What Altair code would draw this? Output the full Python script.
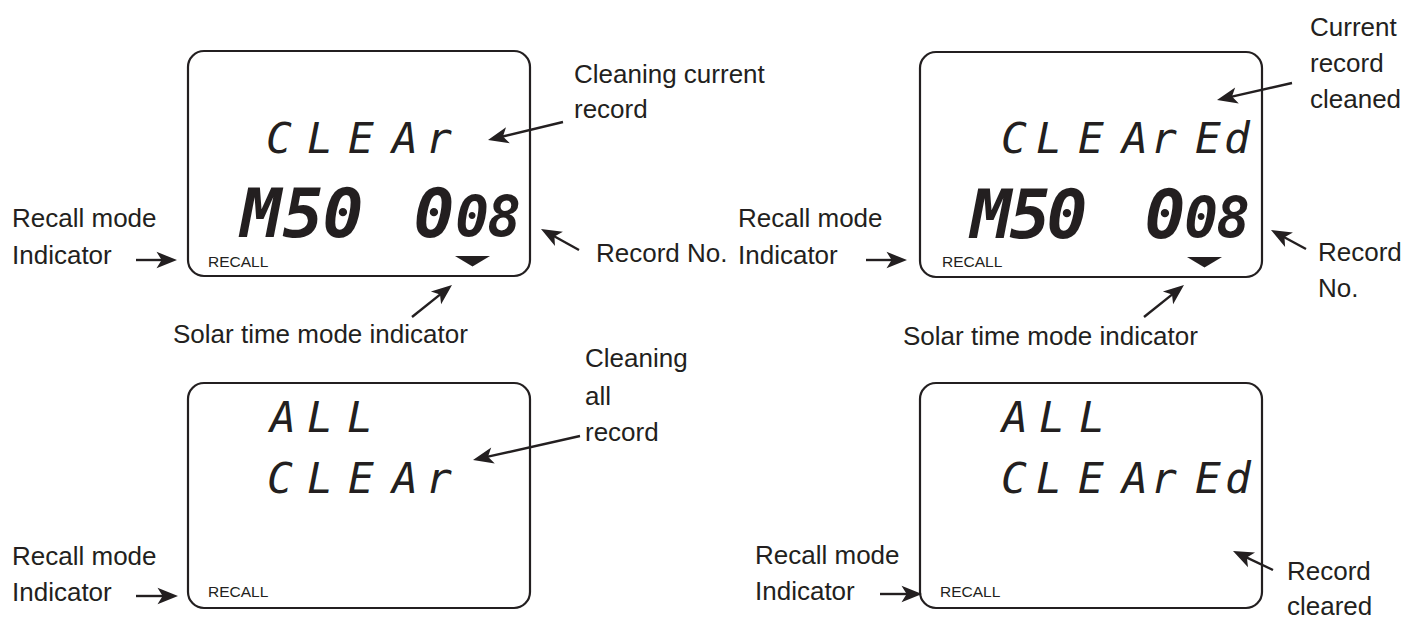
import math
import altair as alt
import pandas as pd

INK = "#231f20"
W, H = 1396, 612

# ---- display panels (rounded LCD frames) ----
box_left = [188, 920, 188, 920]
box_top = [51, 52, 383, 383]
box_right = [530, 1262, 530, 1262]
box_bottom = [276, 277, 608, 608]

# small "RECALL" indicator text in each panel
recall_text = ["RECALL", "RECALL", "RECALL", "RECALL"]
recall_x = [208, 942, 208, 940]
recall_base = [267, 267, 597, 597]

# ---- thin LCD words ----
small_words = ["CLEAr", "CLEArEd", "ALL", "CLEAr", "ALL", "CLEArEd"]
small_centers = [
    [279, 320, 361, 405, 439],
    [1014, 1049, 1091, 1135, 1164, 1208, 1237],
    [283, 320, 360],
    [280, 320, 361, 405, 439],
    [1015, 1052, 1092],
    [1014, 1049, 1091, 1135, 1164, 1208, 1238],
]
small_base = [153, 153, 432, 493, 432, 493]

# ---- large LCD digits "M50 008" ----
big_chars = ["M", "5", "0", "0", "0", "8"]
big_sizes = [68, 68, 68, 68, 56, 56]
big_centers = [
    [261, 303, 343, 434, 472, 504],
    [991, 1030, 1067, 1165, 1201, 1233],
]
big_base = [237, 238]

# solar-time indicator triangles
tri_x = [472.5, 1204.5]
tri_y = [256, 257]

# ---- annotation labels ----
label_text = [
    "Cleaning current", "record",
    "Recall mode", "Indicator",
    "Record No.",
    "Solar time mode indicator",
    "Current", "record", "cleaned",
    "Recall mode", "Indicator",
    "Record", "No.",
    "Solar time mode indicator",
    "Cleaning", "all", "record",
    "Recall mode", "Indicator",
    "Recall mode", "Indicator",
    "Record", "cleared",
]
label_x = [574, 574, 12, 12, 596, 173, 1310, 1310, 1310, 738, 738, 1318, 1318,
           903, 585, 585, 585, 12, 12, 755, 755, 1287, 1287]
label_base = [83, 118, 227, 264, 262, 343, 36, 72, 108, 227, 264, 261, 297,
              345, 367, 405, 441, 565, 601, 564, 600, 580, 615]

# ---- arrows (tail -> tip) ----
arrow_tail = [(563, 122), (579, 250), (412, 317), (136, 260), (1292, 83), (1306, 249),
              (1144, 317), (866, 260), (580, 436), (136, 596), (880, 594), (1273, 570)]
arrow_tip = [(488, 140), (541, 229), (452, 285), (177, 260), (1217, 100), (1271, 230),
             (1184, 285), (907, 260), (473, 460), (178, 596), (922, 594), (1233, 551)]

# ---------------------------------------------------------------
xs = alt.Scale(domain=[8, 8 + W], nice=False, zero=False)
ys = alt.Scale(domain=[8, 8 + H], nice=False, zero=False, reverse=True)


def X(f, **kw):
    return alt.X(f, type="quantitative", scale=xs, axis=None, **kw)


def Y(f, **kw):
    return alt.Y(f, type="quantitative", scale=ys, axis=None, **kw)


boxes = pd.DataFrame({"l": box_left, "t": box_top, "r": box_right, "b": box_bottom})
box_layer = alt.Chart(boxes).mark_rect(
    fill="white", fillOpacity=0, stroke=INK, strokeWidth=2.2, cornerRadius=16
).encode(x=X("l"), x2="r", y=Y("t"), y2="b")

recall_df = pd.DataFrame({"t": recall_text, "x": recall_x, "y": recall_base})
recall_layer = alt.Chart(recall_df).mark_text(
    font="Liberation Sans", fontSize=15.5, align="left", baseline="alphabetic", color=INK
).encode(x=X("x"), y=Y("y"), text="t:N")

rows = []
for word, centers, base in zip(small_words, small_centers, small_base):
    for ch, cx in zip(word, centers):
        rows.append({"c": ch, "x": cx, "y": base})
small_df = pd.DataFrame(rows)
small_layer = alt.Chart(small_df).mark_text(
    font="DejaVu Sans Mono", fontSize=43, fontStyle="italic", align="center",
    baseline="alphabetic", color=INK
).encode(x=X("x"), y=Y("y"), text="c:N")

rows = []
for centers, base in zip(big_centers, big_base):
    for ch, cx, sz in zip(big_chars, centers, big_sizes):
        rows.append({"c": ch, "x": cx, "y": base, "s": sz})
big_df = pd.DataFrame(rows)
big_layer = alt.Chart(big_df).mark_text(
    font="DejaVu Sans Mono", fontStyle="italic", fontWeight="bold", align="center",
    baseline="alphabetic", color=INK
).encode(x=X("x"), y=Y("y"), text="c:N", size=alt.Size("s:Q", scale=None, legend=None))

tri_df = pd.DataFrame({"x": tri_x, "y": tri_y})
tri_layer = alt.Chart(tri_df).mark_point(
    shape="M-1,0 L1,0 L0,0.6 Z", size=1225, filled=True, color=INK, opacity=1
).encode(x=X("x"), y=Y("y"))

lab_df = pd.DataFrame({"t": label_text, "x": label_x, "y": label_base})
lab_layer = alt.Chart(lab_df).mark_text(
    font="Liberation Sans", fontSize=26, align="left", baseline="alphabetic", color=INK
).encode(x=X("x"), y=Y("y"), text="t:N")

rows = []
for (tx, ty), (hx, hy) in zip(arrow_tail, arrow_tip):
    dx, dy = hx - tx, hy - ty
    L = math.hypot(dx, dy)
    ux, uy = dx / L, dy / L
    ang = math.degrees(math.atan2(dx, -dy)) % 360
    rows.append({"x": tx, "y": ty, "x2": hx - 13 * ux, "y2": hy - 13 * uy,
                 "hx": hx, "hy": hy, "a": ang})
arr_df = pd.DataFrame(rows)
shaft_layer = alt.Chart(arr_df).mark_rule(color=INK, strokeWidth=2.4).encode(
    x=X("x"), y=Y("y"), x2="x2", y2="y2"
)
head_layer = alt.Chart(arr_df).mark_point(
    shape="M0,0 L0.8,2 L0,1.5 L-0.8,2 Z", size=420, filled=True, color=INK, opacity=1
).encode(x=X("hx"), y=Y("hy"), angle=alt.Angle("a:Q", scale=None, legend=None))

chart = alt.layer(
    box_layer, recall_layer, small_layer, big_layer, tri_layer,
    lab_layer, shaft_layer, head_layer
).properties(
    width=W, height=H, padding=0, autosize=alt.AutoSizeParams(type="none"),
    background="white"
).configure_view(stroke=None)

chart.save("out.html", embed_options={"renderer": "svg", "actions": False})
